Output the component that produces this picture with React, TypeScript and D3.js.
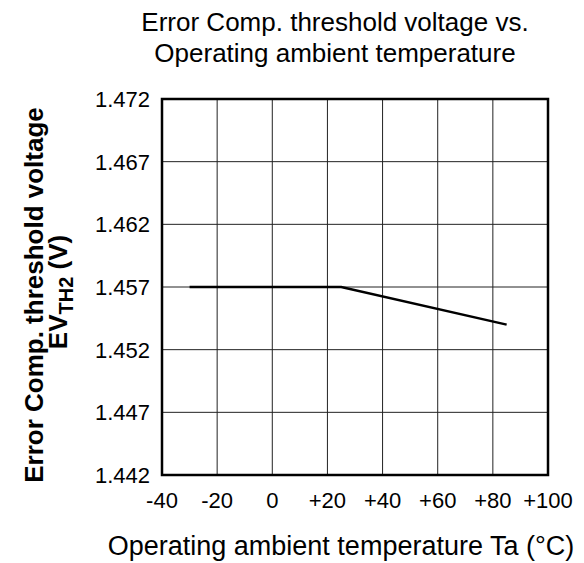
import { useEffect, useRef } from 'react';
import * as d3 from 'd3';

const temps = [-30, 25, 85];
const volts = [1.457, 1.457, 1.454];
const xTicks = [-40, -20, 0, 20, 40, 60, 80, 100];
const yTicks = [1.442, 1.447, 1.452, 1.457, 1.462, 1.467, 1.472];

const fmtX = (d: number) => (d > 0 ? `+${d}` : `${d}`);

export default function App() {
  const ref = useRef<SVGSVGElement>(null);

  useEffect(() => {
    if (!ref.current) return;
    const svg = d3.select(ref.current);
    svg.selectAll('*').remove();

    const margin = { top: 99, right: 36, bottom: 88, left: 162 };
    const W = 584, H = 563;
    const width = W - margin.left - margin.right;
    const height = H - margin.top - margin.bottom;
    const font = 'Liberation Sans, Arial, sans-serif';

    const x = d3.scaleLinear().domain([-40, 100]).range([0, width]);
    const y = d3.scaleLinear().domain([1.442, 1.472]).range([height, 0]);

    const g = svg.append('g').attr('transform', `translate(${margin.left},${margin.top})`);

    // grid
    g.selectAll('.vg').data(xTicks.slice(1, -1)).enter().append('line')
      .attr('x1', d => x(d)).attr('x2', d => x(d))
      .attr('y1', 0).attr('y2', height)
      .attr('stroke', '#222').attr('stroke-width', 1);
    g.selectAll('.hg').data(yTicks.slice(1, -1)).enter().append('line')
      .attr('x1', 0).attr('x2', width)
      .attr('y1', d => y(d)).attr('y2', d => y(d))
      .attr('stroke', '#222').attr('stroke-width', 1);

    // frame
    g.append('rect').attr('x', 0).attr('y', 0).attr('width', width).attr('height', height)
      .attr('fill', 'none').attr('stroke', '#000').attr('stroke-width', 2.5);

    // tick labels
    g.selectAll('.xl').data(xTicks).enter().append('text')
      .attr('x', d => x(d)).attr('y', height + 33)
      .attr('text-anchor', 'middle').attr('font-family', font).attr('font-size', 22)
      .text(d => fmtX(d));
    g.selectAll('.yl').data(yTicks).enter().append('text')
      .attr('x', -12).attr('y', d => y(d)).attr('dy', '0.36em')
      .attr('text-anchor', 'end').attr('font-family', font).attr('font-size', 22)
      .text(d => d.toFixed(3));

    // data line
    const pts = temps.map((t, i) => [t, volts[i]] as [number, number]);
    g.append('path').datum(pts)
      .attr('fill', 'none').attr('stroke', '#000').attr('stroke-width', 2.5)
      .attr('d', d3.line<[number, number]>().x(d => x(d[0])).y(d => y(d[1])));

    // title
    const title = svg.append('text').attr('text-anchor', 'middle')
      .attr('font-family', font).attr('font-size', 26).attr('fill', '#000');
    title.append('tspan').attr('x', 335).attr('y', 31).text('Error Comp. threshold voltage vs.');
    title.append('tspan').attr('x', 335).attr('y', 62).text('Operating ambient temperature');

    // x label
    svg.append('text').attr('x', 341).attr('y', 555).attr('text-anchor', 'middle')
      .attr('font-family', font).attr('font-size', 27).text('Operating ambient temperature Ta (°C)');

    // y label
    svg.append('text').attr('transform', 'translate(43,295) rotate(-90)')
      .attr('text-anchor', 'middle').attr('font-family', font).attr('font-size', 26)
      .attr('font-weight', 'bold').text('Error Comp. threshold voltage');
    const l2 = svg.append('text').attr('transform', 'translate(67,292) rotate(-90)')
      .attr('text-anchor', 'middle').attr('font-family', font).attr('font-size', 26)
      .attr('font-weight', 'bold');
    l2.append('tspan').text('EV');
    l2.append('tspan').attr('font-size', 20).attr('dy', 6).text('TH2');
    l2.append('tspan').attr('dy', -6).text(' (V)');
  }, []);

  return (
    <div style={{ position: 'absolute', left: 0, top: 0 }}>
      <svg ref={ref} width={584} height={563} style={{ display: 'block', background: '#fff' }} />
    </div>
  );
}
